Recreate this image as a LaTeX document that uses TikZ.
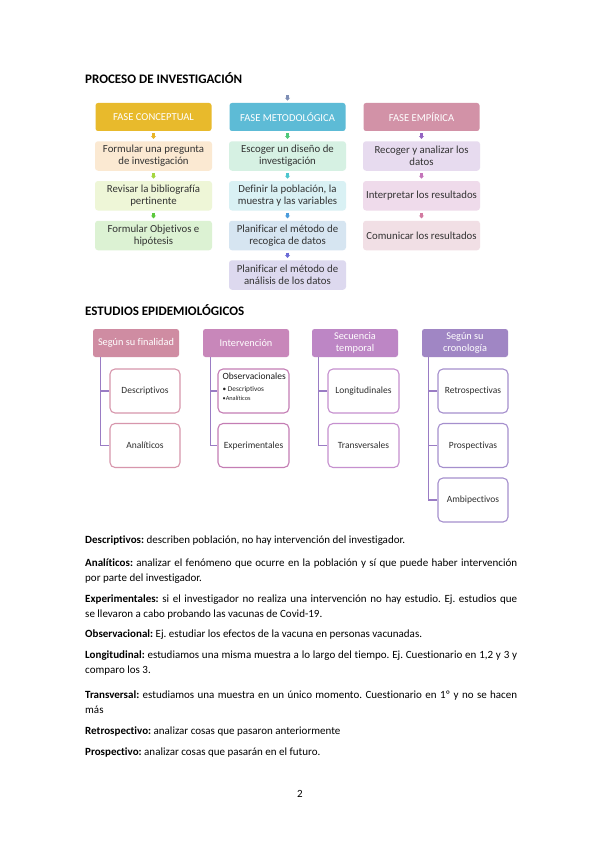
\documentclass[tikz,border=0pt]{standalone}
\usepackage{fontspec}
\setmainfont{Carlito}[Ligatures={NoCommon}]
\usetikzlibrary{arrows.meta}
\frenchspacing
\definecolor{gold}{HTML}{E8BA2C}
\definecolor{sky}{HTML}{5DBBD6}
\definecolor{rose}{HTML}{D292A7}
\definecolor{r2a}{HTML}{FBE9D2}
\definecolor{r2b}{HTML}{D6F1E3}
\definecolor{r2c}{HTML}{E7DBEF}
\definecolor{r3a}{HTML}{EEF6D7}
\definecolor{r3b}{HTML}{D9F1F4}
\definecolor{r3c}{HTML}{EFDBEB}
\definecolor{r4a}{HTML}{DCF2D3}
\definecolor{r4b}{HTML}{D6E5F1}
\definecolor{r4c}{HTML}{F1DFE5}
\definecolor{r5b}{HTML}{DDD9EF}
\definecolor{a1}{HTML}{E9B526}
\definecolor{a2}{HTML}{A5D63F}
\definecolor{a3}{HTML}{5CC83C}
\definecolor{b0}{HTML}{7E8EB5}
\definecolor{b1}{HTML}{4FC97A}
\definecolor{b2}{HTML}{4CC6CE}
\definecolor{b3}{HTML}{4B9CDB}
\definecolor{b4}{HTML}{6B6BD6}
\definecolor{c1}{HTML}{9464C2}
\definecolor{c2}{HTML}{C474BA}
\definecolor{c3}{HTML}{D27AA0}
\definecolor{eh1}{HTML}{CF8CA2}
\definecolor{eh2}{HTML}{C887BA}
\definecolor{eh3}{HTML}{BD86C5}
\definecolor{eh4}{HTML}{A086C4}
\definecolor{eb1}{HTML}{D796AC}
\definecolor{eb2}{HTML}{C47DB4}
\definecolor{eb3}{HTML}{C690CF}
\definecolor{eb4}{HTML}{A58FCD}
\definecolor{econn}{HTML}{9A7CC4}
\begin{document}
\begin{tikzpicture}[x=1pt,y=-1pt,
  phase/.style={rectangle, rounded corners=2.5pt, minimum width=116pt, minimum height=28pt, inner sep=0pt, text=white, font=\fontsize{10.6}{12}\selectfont},
  stepbox/.style={rectangle, rounded corners=3pt, minimum width=117pt, minimum height=29.5pt, inner sep=0pt, align=center, text=black!80, font=\fontsize{10.8}{12.3}\selectfont},
  sarrow/.style={line width=2.2pt, -{Triangle[width=5pt,length=2.8pt]}, shorten <=2.2pt, shorten >=2.2pt},
  ehead/.style={rectangle, rounded corners=2.5pt, minimum width=86pt, minimum height=28pt, inner sep=0pt, text=white, align=center, font=\fontsize{10.3}{12}\selectfont},
  child/.style={rectangle, rounded corners=5pt, minimum width=70pt, minimum height=44pt, inner sep=0pt, fill=white, line width=1.1pt, text=black!82, font=\fontsize{9.5}{11}\selectfont},
  conn/.style={draw=econn, line width=1.1pt},
  ttl/.style={anchor=base west, inner sep=0pt, font=\bfseries\fontsize{13}{15}\selectfont},
  para/.style={anchor=base west, inner sep=0pt, font=\fontsize{11}{15}\selectfont}
]
\useasboundingbox[fill=white] (0,0) rectangle (599,848);

\node[ttl] (t1) at (85,83.5) {PROCESO DE INVESTIGACIÓN};

% phase headers
\node[phase, fill=gold] (fc) at (153.5,117) {FASE CONCEPTUAL};
\node[phase, fill=sky] (fm) at (287.5,117) {FASE METODOLÓGICA};
\node[phase, fill=rose] (fe) at (421.5,117) {FASE EMPÍRICA};

% column 1
\node[stepbox, fill=r2a] (s11) at (153.5,156) {Formular una pregunta\\de investigación};
\node[stepbox, fill=r3a] (s12) at (153.5,195.75) {Revisar la bibliografía\\pertinente};
\node[stepbox, fill=r4a] (s13) at (153.5,235.5) {Formular Objetivos e\\hipótesis};
% column 2
\node[stepbox, fill=r2b] (s21) at (287.5,156) {Escoger un diseño de\\investigación};
\node[stepbox, fill=r3b] (s22) at (287.5,195.75) {Definir la población, la\\muestra y las variables};
\node[stepbox, fill=r4b] (s23) at (287.5,235.5) {Planificar el método de\\recogica de datos};
\node[stepbox, fill=r5b] (s24) at (287.5,275) {Planificar el método de\\análisis de los datos};
% column 3
\node[stepbox, fill=r2c] (s31) at (421.5,156) {Recoger y analizar los\\datos};
\node[stepbox, fill=r3c] (s32) at (421.5,195.75) {Interpretar los resultados};
\node[stepbox, fill=r4c] (s33) at (421.5,235.5) {Comunicar los resultados};

% small arrows
\coordinate (top) at (287.5,93);
\draw[sarrow, b0] (top) -- (fm.north);
\draw[sarrow, a1] (fc) -- (s11);
\draw[sarrow, a2] (s11) -- (s12);
\draw[sarrow, a3] (s12) -- (s13);
\draw[sarrow, b1] (fm) -- (s21);
\draw[sarrow, b2] (s21) -- (s22);
\draw[sarrow, b3] (s22) -- (s23);
\draw[sarrow, b4] (s23) -- (s24);
\draw[sarrow, c1] (fe) -- (s31);
\draw[sarrow, c2] (s31) -- (s32);
\draw[sarrow, c3] (s32) -- (s33);

\node[ttl] (t2) at (85,315) {ESTUDIOS EPIDEMIOLÓGICOS};

% epidemiological headers
\node[ehead, fill=eh1] (h1) at (136,343) {Según su finalidad};
\node[ehead, fill=eh2] (h2) at (246,343) {Intervención};
\node[ehead, fill=eh3] (h3) at (355,343) {Secuencia\\temporal};
\node[ehead, fill=eh4] (h4) at (465,343) {Según su\\cronología};

\coordinate (h1s) at ([xshift=8pt]h1.south west);
\coordinate (h2s) at ([xshift=8pt]h2.south west);
\coordinate (h3s) at ([xshift=7pt]h3.south west);
\coordinate (h4s) at ([xshift=7pt]h4.south west);

% children
\node[child, draw=eb1] (d1) at (145,391) {Descriptivos};
\node[child, draw=eb1] (d2) at (145,445.5) {Analíticos};
\node[child, draw=eb2, minimum width=71pt] (i1) at (253.5,391) {};
\node[child, draw=eb2, minimum width=71pt] (i2) at (253.5,445.5) {Experimentales};
\node[child, draw=eb3, minimum width=71pt] (l1) at (363.5,391) {Longitudinales};
\node[child, draw=eb3, minimum width=71pt] (l2) at (363.5,445.5) {Transversales};
\node[child, draw=eb4] (r1) at (473,391) {Retrospectivas};
\node[child, draw=eb4] (r2) at (473,445.5) {Prospectivas};
\node[child, draw=eb4] (r3) at (473,500) {Ambipectivos};

\draw[conn] (h1s) |- (d1.west);
\draw[conn] (h1s) |- (d2.west);
\draw[conn] (h2s) |- (i1.west);
\draw[conn] (h2s) |- (i2.west);
\draw[conn] (h3s) |- (l1.west);
\draw[conn] (h3s) |- (l2.west);
\draw[conn] (h4s) |- (r1.west);
\draw[conn] (h4s) |- (r2.west);
\draw[conn] (h4s) |- (r3.west);

% Observacionales box content
\node[anchor=base west, inner sep=0pt, font=\fontsize{9.5}{11}\selectfont, text=black!90] (obs) at ([xshift=5pt,yshift=-11.5pt]i1.north west) {Observacionales};
\node[anchor=base west, inner sep=0pt, font=\fontsize{7.3}{8}\selectfont, text=black!85] (obs1) at ([xshift=5pt,yshift=-23.5pt]i1.north west) {• Descriptivos};
\node[anchor=base west, inner sep=0pt, font=\fontsize{6.3}{7}\selectfont, text=black!85] (obs2) at ([xshift=5pt,yshift=-32pt]i1.north west) {•Analíticos};

% paragraphs
\node[para] (p1) at (85,543.5) {\parbox[t]{432pt}{\textbf{Descriptivos:} describen población, no hay intervención del investigador.}};
\node[para] (p2) at (85,566.5) {\parbox[t]{432pt}{\textbf{Analíticos:} analizar el fenómeno que ocurre en la población y sí que puede haber intervención\linebreak por parte del investigador.}};
\node[para] (p3) at (85,602.5) {\parbox[t]{432pt}{\textbf{Experimentales:} si el investigador no realiza una intervención no hay estudio. Ej. estudios que\linebreak se llevaron a cabo probando las vacunas de Covid-19.}};
\node[para] (p4) at (85,637.5) {\parbox[t]{432pt}{\textbf{Observacional:} Ej. estudiar los efectos de la vacuna en personas vacunadas.}};
\node[para] (p5) at (85,658.5) {\parbox[t]{432pt}{\textbf{Longitudinal:} estudiamos una misma muestra a lo largo del tiempo. Ej. Cuestionario en 1,2 y 3 y\linebreak comparo los 3.}};
\node[para] (p6) at (85,698) {\parbox[t]{432pt}{\textbf{Transversal:} estudiamos una muestra en un único momento. Cuestionario en 1º y no se hacen\linebreak más}};
\node[para] (p7) at (85,734) {\parbox[t]{432pt}{\textbf{Retrospectivo:} analizar cosas que pasaron anteriormente}};
\node[para] (p8) at (85,755) {\parbox[t]{432pt}{\textbf{Prospectivo:} analizar cosas que pasarán en el futuro.}};

\node[anchor=base, inner sep=0pt, font=\fontsize{11}{13}\selectfont] (pg) at (300,797) {2};
\end{tikzpicture}
\end{document}
